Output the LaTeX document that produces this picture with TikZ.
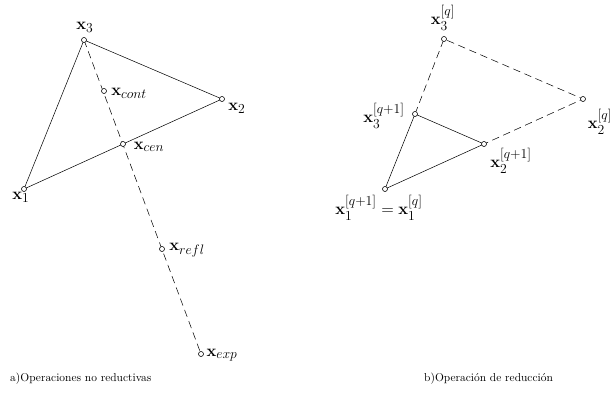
\documentclass[tikz,border=0pt]{standalone}
\usepackage{amsmath}
\DeclareMathSizes{14.4}{14.4}{12}{10}
\begin{document}
\begin{tikzpicture}[x=0.875pt,y=-0.875pt,
  pt/.style={circle,draw,fill=white,inner sep=0pt,minimum size=4.4pt,line width=0.5pt},
  edge/.style={line width=0.45pt},
  dedge/.style={line width=0.45pt,dash pattern=on 6.5pt off 4pt},
  lab/.style={inner sep=0pt,font=\Large}]
\useasboundingbox (0,0) rectangle (616,401);
% ---- left diagram
\coordinate (A3) at (84,40);
\coordinate (A2) at (222,99);
\coordinate (A1) at (24,189);
\coordinate (Acen) at (123,144);
\coordinate (Acont) at (104,91);
\coordinate (Arefl) at (162,249);
\coordinate (Aexp) at (201,354);
\draw[edge] (A1) -- (A3) -- (A2) -- (A1);
\draw[dedge] (A3) -- (Aexp);
\foreach \p in {A1,A2,A3,Acen,Acont,Arefl,Aexp} \node[pt] (n\p) at (\p) {};
\node[lab] (l3) at (85,27) {$\mathbf{x}_3$};
\node[lab] (l2) at (237,108) {$\mathbf{x}_2$};
\node[lab] (l1) at (21,197) {$\mathbf{x}_1$};
\node[lab] (lcont) at (129,93) {$\mathbf{x}_{cont}$};
\node[lab] (lcen) at (149,147) {$\mathbf{x}_{cen}$};
\node[lab] (lrefl) at (187,250) {$\mathbf{x}_{refl}$};
\node[lab] (lexp) at (222,355) {$\mathbf{x}_{exp}$};
% ---- right diagram
\coordinate (B3) at (444,39);
\coordinate (B2) at (583,99);
\coordinate (B1) at (385,189);
\coordinate (C3) at (415,114);
\coordinate (C2) at (484,144);
\draw[dedge] (C3) -- (B3) -- (B2) -- (C2);
\draw[edge] (B1) -- (C3) -- (C2) -- (B1);
\foreach \p in {B1,B2,B3,C2,C3} \node[pt] (n\p) at (\p) {};
\node[lab] (m3) at (443,18) {$\mathbf{x}_3^{[q]}$};
\node[lab] (m2) at (600,122) {$\mathbf{x}_2^{[q]}$};
\node[lab] (k3) at (384,116) {$\mathbf{x}_3^{[q+1]}$};
\node[lab] (k2) at (511,161) {$\mathbf{x}_2^{[q+1]}$};
\node[lab] (k1) at (379,208) {$\mathbf{x}_1^{[q+1]}=\mathbf{x}_1^{[q]}$};
% ---- captions
\node[inner sep=0pt,anchor=west] (capa) at (10,379) {a)Operaciones no reductivas};
\node[inner sep=0pt,anchor=west] (capb) at (424,379) {b)Operación de reducción};
\end{tikzpicture}
\end{document}
